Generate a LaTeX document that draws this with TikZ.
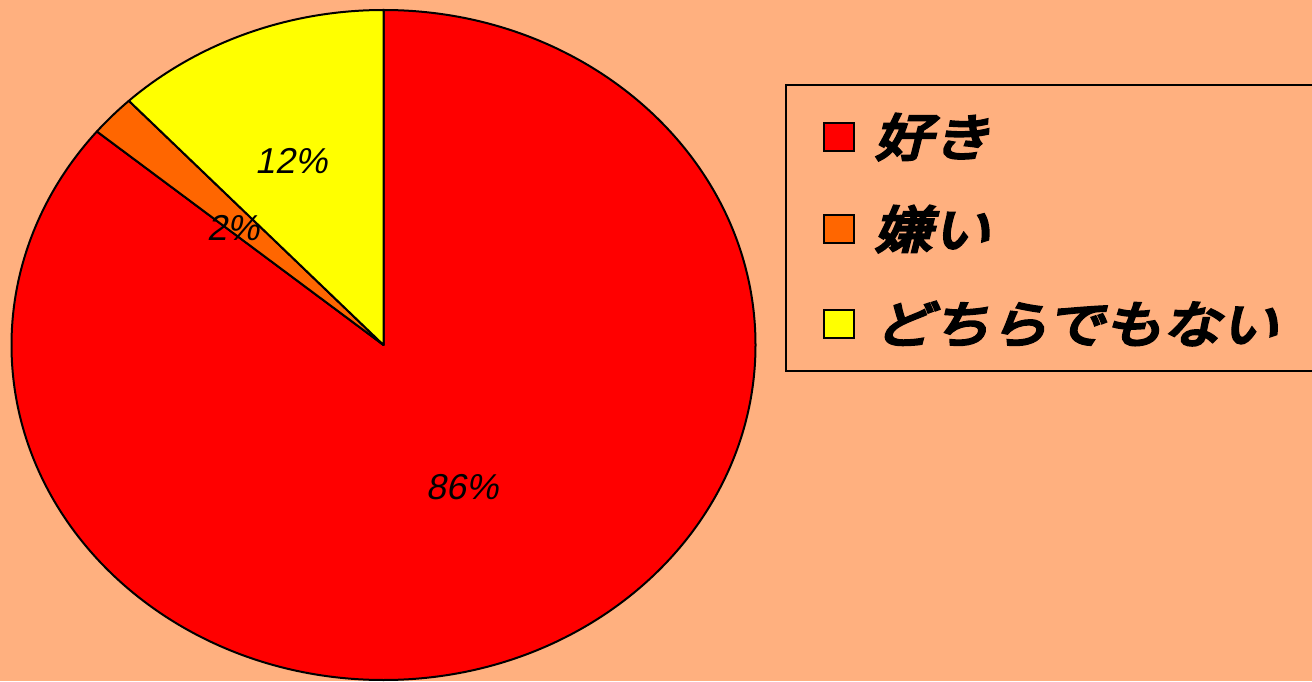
\documentclass[tikz,border=0pt]{standalone}
\usepackage{fontspec}
\newfontfamily\jp{Noto Sans CJK JP}[FakeSlant=0.25,FakeBold=6,FakeStretch=1.16]
\newfontfamily\pctfont{Liberation Sans}[FakeSlant=0.2]
\definecolor{bgpeach}{RGB}{255,176,127}
\definecolor{sred}{RGB}{255,0,0}
\definecolor{sorange}{RGB}{255,102,0}
\definecolor{syellow}{RGB}{255,255,0}
\begin{document}
\begin{tikzpicture}[x=1pt,y=1pt,
  slice/.style={draw=black,line width=2pt,line join=round},
  pct/.style={font=\pctfont\fontsize{36}{36}\selectfont,inner sep=0pt},
  legsq/.style={draw=black,line width=1.8pt,minimum width=30pt,minimum height=28pt,inner sep=0pt},
  legtxt/.style={font=\jp\fontsize{50}{50}\selectfont,anchor=west,inner sep=0pt}]
\useasboundingbox (0,0) rectangle (1312,681);
\fill[bgpeach] (0,0) rectangle (1312,681);
\coordinate (C) at (383.5,336);
% red slice 86%
\filldraw[slice,fill=sred] (C) -- ++(90:372 and 335) arc[start angle=90,end angle=-219.6,x radius=372,y radius=335] -- cycle;
% orange slice 2%
\filldraw[slice,fill=sorange] (C) -- ++(133.2:372 and 335) arc[start angle=133.2,end angle=140.4,x radius=372,y radius=335] -- cycle;
% yellow slice 12%
\filldraw[slice,fill=syellow] (C) -- ++(90:372 and 335) arc[start angle=90,end angle=133.2,x radius=372,y radius=335] -- cycle;
\node[pct] (p12) at (291,520) {12\%};
\node[pct] (p2) at (233,453) {2\%};
\node[pct] (p86) at (462,194) {86\%};
% legend
\draw[line width=2pt] (1330,596) -- (786,596) -- (786,310) -- (1330,310);
\node[legsq,fill=sred] (s1) at (839,544) {};
\node[legsq,fill=sorange] (s2) at (839,452) {};
\node[legsq,fill=syellow] (s3) at (839,357) {};
\node[legtxt] (t1) at (874,544) {好き};
\node[legtxt] (t2) at (874,452) {嫌い};
\node[legtxt] (t3) at (874,357) {どちらでもない};
\end{tikzpicture}
\end{document}
